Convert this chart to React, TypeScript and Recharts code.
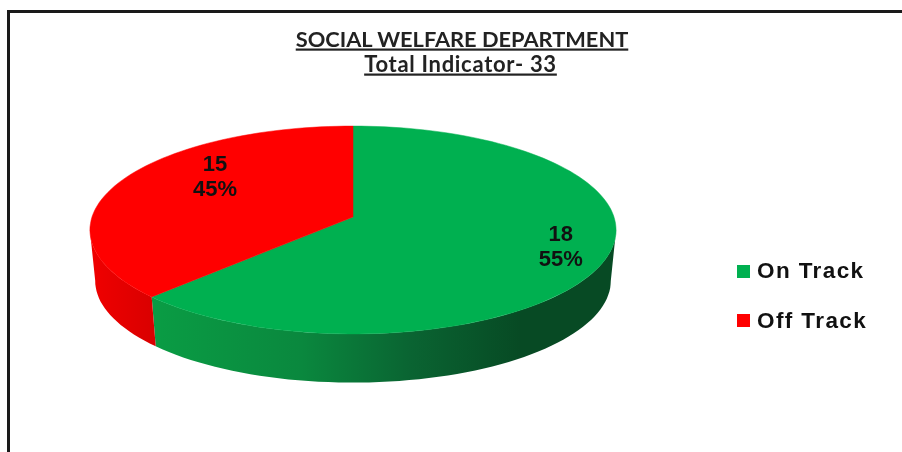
import React from "react";
import { Legend, Pie, PieChart } from "recharts";

const categories = ["On Track", "Off Track"];
const counts = [18, 15];
const percentLabels = ["55%", "45%"];
// the slices in the picture are not cut at 55/45, this is the share as drawn
const drawnShares = [62.4, 37.6];

const topColors = ["#00b050", "#ff0000"];
const wallFills = ["url(#greenWall)", "url(#redWall)"];

const sliceData = categories.map((name, i) => ({
  name,
  value: drawnShares[i],
  fill: topColors[i],
}));

const FONT = "'Liberation Sans', Arial, sans-serif";
const PIE_CX = 353;
const PIE_CY = 217;
const RADIUS = 261;
const PERSPECTIVE = 0.125; // near half of the disc looks bigger
const FLATTEN = 0.392;
const WALL_SCALE = 0.98;
const WALL_DROP = 51;

const LABEL_RADIUS = [0.815, 0.7];
const LABEL_TURN = [-3, 15];

// recharts angle (degrees) on the tilted disc
const project = (
  angle: number,
  r: number,
  cx: number,
  cy: number,
  radius: number
) => {
  const t = (angle * Math.PI) / 180;
  const x = Math.cos(t) * r;
  const z = -Math.sin(t) * r;
  const w = 1 - PERSPECTIVE * z;
  return [cx + (radius * x) / w, cy + (radius * FLATTEN * z) / w];
};

const arcPoints = (
  from: number,
  to: number,
  cx: number,
  cy: number,
  radius: number
) => {
  const pts: number[][] = [];
  const steps = Math.max(2, Math.ceil(Math.abs(to - from) / 2));
  for (let i = 0; i <= steps; i++) {
    pts.push(project(from + ((to - from) * i) / steps, 1, cx, cy, radius));
  }
  return pts;
};

const toPath = (pts: number[][]) =>
  pts.map((p, i) => `${i ? "L" : "M"}${p[0].toFixed(1)},${p[1].toFixed(1)}`).join(" ") + " Z";

const TopSlice = (props: any) => {
  const { cx, cy, outerRadius, startAngle, endAngle, fill } = props;
  const pts = [[cx, cy], ...arcPoints(startAngle, endAngle, cx, cy, outerRadius)];
  return <path d={toPath(pts)} fill={fill} stroke={fill} strokeWidth={0.5} />;
};

const WallSlice = (props: any) => {
  const { cx, cy, outerRadius, startAngle, endAngle, index } = props;
  // only the front of the disc shows a wall, up to where the outline turns
  const turn = (Math.asin(PERSPECTIVE) * 180) / Math.PI;
  const low = -180 + turn;
  const high = -turn;
  const a = Math.min(high, startAngle);
  const b = Math.max(low, endAngle);
  if (a <= b) return null;
  const top = arcPoints(a, b, cx, cy, outerRadius);
  const bottom = arcPoints(b, a, cx, cy + WALL_DROP, outerRadius * WALL_SCALE);
  return <path d={toPath([...top, ...bottom])} fill={wallFills[index]} />;
};

const SliceLabel = (props: any) => {
  const { cx, cy, midAngle, index } = props;
  const [x, y] = project(
    midAngle - LABEL_TURN[index],
    LABEL_RADIUS[index],
    cx,
    cy,
    RADIUS
  );
  return (
    <text
      x={x}
      y={y}
      textAnchor="middle"
      fontFamily={FONT}
      fontWeight="bold"
      fontSize={22}
      fill="#111"
    >
      <tspan x={x} dy={-5}>
        {counts[index]}
      </tspan>
      <tspan x={x} dy={25.5}>
        {percentLabels[index]}
      </tspan>
    </text>
  );
};

const App = () => {
  return (
    <div
      style={{
        position: "absolute",
        left: 0,
        top: 0,
        width: 902,
        height: 452,
        overflow: "hidden",
        background: "#fff",
      }}
    >
      <div
        style={{
          position: "absolute",
          left: 7,
          top: 10,
          width: 920,
          height: 460,
          border: "3px solid #1a1a1a",
        }}
      />
      <div style={{ position: "absolute", left: 0, top: 0, filter: "blur(0.5px)" }}>
        <PieChart width={902} height={452} margin={{ top: 0, right: 0, bottom: 0, left: 0 }}>
          <defs>
            <linearGradient id="greenWall" gradientUnits="userSpaceOnUse" x1="155" y1="0" x2="520" y2="0">
              <stop offset="0" stopColor="#0a9c44" />
              <stop offset="0.4" stopColor="#0a883e" />
              <stop offset="0.7" stopColor="#0a6432" />
              <stop offset="1" stopColor="#074a24" />
            </linearGradient>
            <linearGradient id="redWall" gradientUnits="userSpaceOnUse" x1="90" y1="0" x2="158" y2="0">
              <stop offset="0" stopColor="#f00000" />
              <stop offset="1" stopColor="#d80000" />
            </linearGradient>
          </defs>
          <text
            x={462}
            y={46.5}
            textAnchor="middle"
            fontFamily="Lato, sans-serif"
            fontWeight={700}
            fontSize={21.8}
            fill="#222"
            textDecoration="underline"
          >
            SOCIAL WELFARE DEPARTMENT
          </text>
          <text
            x={460.5}
            y={71.5}
            textAnchor="middle"
            fontFamily="Lato, sans-serif"
            fontWeight={700}
            fontSize={22}
            letterSpacing={0.7}
            fill="#222"
            textDecoration="underline"
          >
            Total Indicator- 33
          </text>
          <Pie
            data={sliceData}
            dataKey="value"
            nameKey="name"
            cx={PIE_CX}
            cy={PIE_CY}
            outerRadius={RADIUS}
            startAngle={90}
            endAngle={-270}
            stroke="none"
            legendType="none"
            shape={WallSlice}
            isAnimationActive={false}
          />
          <Pie
            data={sliceData}
            dataKey="value"
            nameKey="name"
            cx={PIE_CX}
            cy={PIE_CY}
            outerRadius={RADIUS}
            startAngle={90}
            endAngle={-270}
            stroke="none"
            shape={TopSlice}
            label={SliceLabel}
            labelLine={false}
            isAnimationActive={false}
          />
          <Legend
            layout="vertical"
            iconType="square"
            iconSize={13}
            itemSorter={null}
            wrapperStyle={{ left: 737, top: 244, width: 160, lineHeight: "47.5px" }}
            formatter={(value: string) => (
              <span
                style={{
                  position: "relative",
                  top: 3,
                  marginLeft: 3,
                  color: "#111",
                  fontFamily: FONT,
                  fontWeight: "bold",
                  fontSize: 22.5,
                  letterSpacing: 1.4,
                }}
              >
                {value}
              </span>
            )}
          />
        </PieChart>
      </div>
    </div>
  );
};

export default App;
